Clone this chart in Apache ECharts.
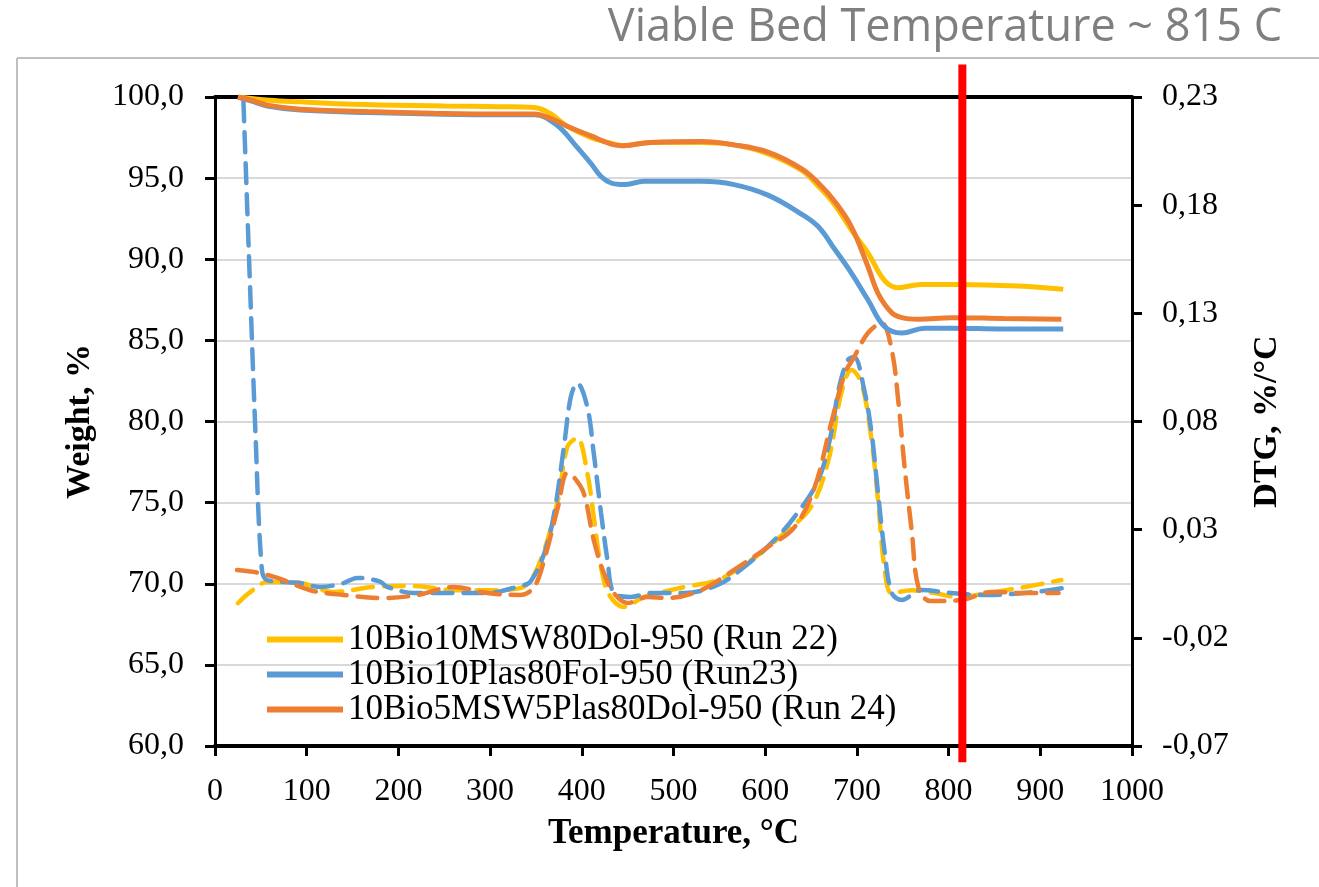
<!DOCTYPE html>
<html>
<head>
<meta charset="utf-8">
<script src="https://cdn.jsdelivr.net/npm/echarts@6/dist/echarts.min.js"></script>
<style>
  html, body { margin: 0; padding: 0; background: #fff; }
  #chart { width: 1319px; height: 887px; }
</style>
</head>
<body>
<div id="chart"></div>
<script>
// TGA weight curves, [temperature C, weight %]
const weightRun22 = [[25,100],[60,99.8],[93,99.7],[150,99.55],[250,99.45],[311,99.4],[348,99.35],[365,99.0],[384,98.2],[410,97.5],[432,97.15],[445,97.0],[475,97.2],[530,97.2],[566,97.05],[603,96.5],[639,95.5],[658,94.5],[676,93.35],[694,91.8],[712,90.4],[730,88.7],[745,88.25],[770,88.45],[810,88.45],[876,88.35],[925,88.15]]
const weightRun23 = [[25,100],[40,99.75],[57,99.45],[93,99.2],[166,99.05],[238,98.95],[311,98.9],[348,98.9],[372,98.3],[395,96.9],[410,95.9],[421,95.1],[432,94.7],[446,94.6],[468,94.8],[530,94.8],[566,94.6],[603,93.95],[639,92.8],[658,92.0],[676,90.6],[694,89.15],[712,87.5],[730,85.85],[749,85.45],[774,85.75],[803,85.75],[860,85.7],[925,85.7]]
const weightRun24 = [[25,100],[40,99.8],[57,99.5],[93,99.25],[166,99.1],[238,99.0],[311,98.95],[348,98.95],[365,98.7],[384,98.2],[410,97.6],[432,97.1],[445,97.0],[475,97.2],[530,97.25],[566,97.05],[603,96.6],[639,95.6],[658,94.7],[676,93.55],[694,92.0],[712,89.55],[723,87.9],[738,86.7],[749,86.4],[767,86.3],[803,86.4],[860,86.35],[923,86.3]]

// DTG curves, [temperature C, %/C]
const dtgRun22 = [[25,-0.004],[38,0.001],[57,0.0058],[93,0.0053],[129,0.0012],[173,0.0035],[217,0.004],[260,0.002],[297,0.002],[333,0.003],[352,0.0127],[374,0.0437],[384,0.068],[395,0.0724],[406,0.0562],[413,0.036],[421,0.0127],[430,-0.0002],[446,-0.0057],[468,-0.0011],[512,0.0035],[548,0.0067],[585,0.016],[621,0.0285],[650,0.0405],[669,0.0622],[683,0.0932],[694,0.1038],[705,0.0978],[716,0.0714],[723,0.0437],[730,0.0127],[738,0.0007],[760,0.002],[785,0.0007],[810,-0.0011],[850,0.0012],[883,0.0035],[923,0.0067]]
const dtgRun23 = [[31,0.228],[38,0.145],[44,0.076],[51,0.012],[57,0.0067],[93,0.0053],[115,0.0035],[140,0.0053],[155,0.0077],[180,0.006],[188,0.0035],[217,0.0007],[260,0.0007],[297,0.0007],[333,0.004],[344,0.006],[359,0.019],[370,0.0377],[381,0.07],[388,0.0913],[395,0.0978],[406,0.0867],[413,0.0654],[421,0.0377],[428,0.016],[435,0.0007],[453,-0.0011],[475,0.0007],[512,0.0007],[548,0.0044],[577,0.0127],[610,0.0252],[632,0.0359],[658,0.053],[672,0.0747],[680,0.0946],[690,0.1084],[697,0.1098],[708,0.0946],[716,0.0747],[723,0.047],[730,0.0206],[738,0.0007],[749,-0.0025],[770,0.0021],[803,0.0007],[840,-0.0002],[894,0.0012],[925,0.003]]
const dtgRun24 = [[24,0.0114],[42,0.0105],[68,0.0077],[104,0.002],[140,-0.0002],[184,-0.0016],[221,-0.0002],[260,0.0035],[297,0.0007],[333,-0.0002],[348,0.0035],[359,0.016],[374,0.0405],[384,0.0562],[391,0.0544],[402,0.047],[413,0.0252],[424,0.01],[435,0.0007],[450,-0.0039],[472,-0.0011],[494,-0.0016],[530,0.002],[566,0.0114],[603,0.022],[632,0.0312],[654,0.0497],[672,0.0793],[687,0.1024],[697,0.1098],[712,0.1209],[727,0.1255],[738,0.113],[745,0.09],[752,0.059],[760,0.0285],[767,0.0035],[780,-0.003],[814,-0.0025],[847,0.0012],[883,0.0007],[920,0.0007]]

const runNames = ['10Bio10MSW80Dol-950 (Run 22)', '10Bio10Plas80Fol-950 (Run23)', '10Bio5MSW5Plas80Dol-950 (Run 24)']
const runColors = ['#FFC000', '#5B9BD5', '#ED7D31']
const bedTemp = 815
// red marker runs a little past the plot, top and bottom (weight-axis units)
const bedLineSpan = [102, 59]

const serif = '"Liberation Serif", "Times New Roman", serif'
const comma = (v, d) => v.toFixed(d).replace('.', ',')

function solid(i, data) {
  return {
    name: runNames[i], type: 'line', data: data, xAxisIndex: 0, yAxisIndex: 0,
    showSymbol: false, smooth: 0.4,
    lineStyle: { color: runColors[i], width: 5 }, itemStyle: { color: runColors[i] }, z: 3
  }
}
function dashed(i, data) {
  return {
    name: runNames[i] + ' DTG', type: 'line', data: data, xAxisIndex: 0, yAxisIndex: 1,
    showSymbol: false, smooth: 0.35,
    lineStyle: { color: runColors[i], width: 4.5, type: [20, 11], cap: 'round' }, z: 2
  }
}

const chart = echarts.init(document.getElementById('chart'))
chart.setOption({
  animation: false,
  title: {
    text: 'Viable Bed Temperature ~ 815 C', right: 32, top: 1,
    textStyle: { color: '#7f7f7f', fontSize: 45, fontWeight: 'normal', fontFamily: '"Open Sans", "Noto Sans", sans-serif' }
  },
  graphic: [
    { type: 'line', shape: { x1: 17, y1: 58, x2: 1319, y2: 58 }, style: { stroke: '#bfbfbf', lineWidth: 2 } },
    { type: 'line', shape: { x1: 17, y1: 58, x2: 17, y2: 887 }, style: { stroke: '#bfbfbf', lineWidth: 2 } }
  ],
  legend: {
    data: runNames, orient: 'vertical', left: 262, top: 617, itemGap: 0,
    itemWidth: 76, itemHeight: 6, icon: 'rect',
    textStyle: { fontFamily: serif, fontSize: 35, color: '#000' }
  },
  grid: { left: 215, right: 187, top: 97, height: 649 },
  xAxis: [
    {
      type: 'value', min: 0, max: 1000, interval: 100,
      name: 'Temperature, °C', nameLocation: 'middle', nameGap: 70,
      nameTextStyle: { fontFamily: serif, fontSize: 35, fontWeight: 'bold', color: '#000' },
      axisLine: { onZero: false, lineStyle: { color: '#000', width: 4 } },
      axisTick: { length: 10, lineStyle: { color: '#000', width: 3 } },
      axisLabel: { fontFamily: serif, fontSize: 32, color: '#000', margin: 30, formatter: v => String(v) },
      splitLine: { show: false }
    },
    {
      type: 'value', position: 'top', min: 0, max: 1000,
      axisLine: { onZero: false, lineStyle: { color: '#000', width: 4 } },
      axisTick: { show: false }, axisLabel: { show: false }, splitLine: { show: false }
    }
  ],
  yAxis: [
    {
      type: 'value', min: 60, max: 100, interval: 5,
      name: 'Weight, %', nameLocation: 'middle', nameGap: 118, nameRotate: 90,
      nameTextStyle: { fontFamily: serif, fontSize: 34, fontWeight: 'bold', color: '#000' },
      axisLine: { show: true, onZero: false, lineStyle: { color: '#000', width: 3 } },
      axisTick: { show: true, length: 10, lineStyle: { color: '#000', width: 3 } },
      axisLabel: { fontFamily: serif, fontSize: 32, color: '#000', margin: 31, formatter: v => comma(v, 1) },
      splitLine: { lineStyle: { color: '#d9d9d9', width: 2 } }
    },
    {
      type: 'value', position: 'right', min: -0.07, max: 0.23, interval: 0.05,
      name: 'DTG, %/°C', nameLocation: 'middle', nameGap: 118, nameRotate: 90,
      nameTextStyle: { fontFamily: serif, fontSize: 34, fontWeight: 'bold', color: '#000' },
      axisLine: { show: true, onZero: false, lineStyle: { color: '#000', width: 3 } },
      axisTick: { show: true, length: 10, lineStyle: { color: '#000', width: 3 } },
      axisLabel: { fontFamily: serif, fontSize: 32, color: '#000', margin: 30, formatter: v => comma(v, 2) },
      splitLine: { show: false }
    }
  ],
  series: [
    dashed(0, dtgRun22), dashed(1, dtgRun23), dashed(2, dtgRun24),
    solid(0, weightRun22), solid(1, weightRun23), solid(2, weightRun24),
    {
      name: 'bed', type: 'line', xAxisIndex: 0, yAxisIndex: 0, clip: false,
      data: bedLineSpan.map(v => [bedTemp, v]), showSymbol: false,
      lineStyle: { color: '#ff0000', width: 8 }, z: 10
    }
  ]
})
</script>
</body>
</html>
